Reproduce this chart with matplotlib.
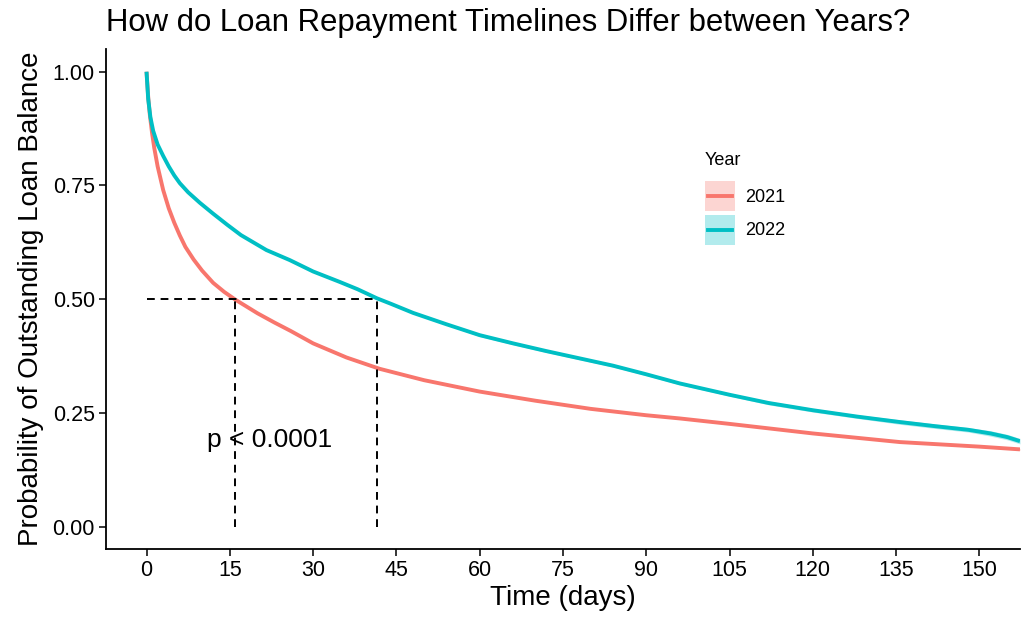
import matplotlib
matplotlib.use("Agg")
import matplotlib.pyplot as plt
from matplotlib.patches import Patch, Rectangle
from matplotlib.lines import Line2D
from matplotlib.legend_handler import HandlerBase

plt.rcParams['font.family'] = ['Liberation Sans', 'DejaVu Sans']

# Kaplan-Meier estimates read at selected days
days_2021 = [0, 0.3, 0.6, 1, 1.4, 2, 3, 4, 5, 6, 7, 8.5, 10, 12, 14, 16, 18, 20, 23, 26,
             30, 36, 42, 50, 60, 70, 80, 90, 96, 105, 120, 135.7, 150, 157.3]
surv_2021 = [1.0, 0.945, 0.905, 0.865, 0.832, 0.792, 0.74, 0.70, 0.668, 0.64, 0.615, 0.587,
             0.563, 0.536, 0.516, 0.499, 0.484, 0.469, 0.449, 0.43, 0.403, 0.372, 0.347,
             0.322, 0.297, 0.277, 0.259, 0.245, 0.238, 0.226, 0.205, 0.186, 0.176, 0.170]
ci_2021 = [0.0, 0.001, 0.001, 0.001, 0.001, 0.001, 0.001, 0.001, 0.001, 0.001, 0.001, 0.001,
           0.001, 0.001, 0.001, 0.001, 0.001, 0.001, 0.001, 0.001, 0.001, 0.001, 0.001,
           0.001, 0.001, 0.001, 0.001, 0.001, 0.001, 0.001, 0.0015, 0.0015, 0.002, 0.002]

days_2022 = [0, 0.3, 0.7, 1.2, 2, 3, 4, 5, 6, 7.5, 9.6, 12, 14.5, 17, 21.6, 25.8, 30, 34.8,
             38, 41.5, 44, 48, 54, 60, 66, 72, 78, 84, 90, 96, 105, 112, 120, 128, 135.7,
             142, 148, 152, 155, 157.3]
surv_2022 = [1.0, 0.94, 0.90, 0.87, 0.84, 0.815, 0.792, 0.772, 0.755, 0.735, 0.712, 0.688,
             0.664, 0.641, 0.608, 0.586, 0.561, 0.538, 0.522, 0.502, 0.49, 0.47, 0.445,
             0.421, 0.403, 0.386, 0.37, 0.354, 0.335, 0.315, 0.29, 0.272, 0.256, 0.242,
             0.23, 0.221, 0.213, 0.205, 0.197, 0.188]
ci_2022 = [0.0, 0.002, 0.002, 0.002, 0.002, 0.002, 0.002, 0.002, 0.002, 0.002, 0.002, 0.002,
           0.002, 0.002, 0.002, 0.002, 0.002, 0.002, 0.002, 0.002, 0.002, 0.002, 0.002,
           0.003, 0.003, 0.003, 0.003, 0.003, 0.003, 0.003, 0.003, 0.004, 0.004, 0.004,
           0.005, 0.005, 0.005, 0.006, 0.006, 0.006]

years = ["2021", "2022"]
colors = ["#F8766D", "#00BFC4"]
median_days = [16, 41.5]
p_label = "p < 0.0001"


class BandKeyHandler(HandlerBase):
    """Legend key: shaded square with the curve colour drawn through its middle."""

    def create_artists(self, legend, orig_handle, xdescent, ydescent, width, height,
                       fontsize, trans):
        col = orig_handle.get_edgecolor()
        box = Rectangle((-xdescent, -ydescent), width, height, facecolor=col,
                        alpha=0.3, lw=0, transform=trans)
        mid = -ydescent + height / 2
        inset = width * 0.1
        line = Line2D([-xdescent + inset, -xdescent + width - inset], [mid, mid],
                      color=col, lw=2.8, transform=trans)
        return [box, line]


fig = plt.figure(figsize=(10.25, 6.17), dpi=100)
ax = fig.add_axes([0.1034, 0.1102, 0.8917, 0.8104])

series = [(days_2021, surv_2021, ci_2021), (days_2022, surv_2022, ci_2022)]
for (d, s, c), col in zip(series, colors):
    lo = [v - e for v, e in zip(s, c)]
    hi = [v + e for v, e in zip(s, c)]
    ax.fill_between(d, lo, hi, color=col, alpha=0.3, lw=0)
    ax.plot(d, s, color=col, lw=2.8, solid_capstyle='butt', solid_joinstyle='round')

# median survival guide lines
ax.plot([0, max(median_days)], [0.5, 0.5], color='black', lw=1.4, ls=(0, (4, 3)))
for m in median_days:
    ax.plot([m, m], [0, 0.5], color='black', lw=1.4, ls=(0, (4, 3)))

ax.text(22.2, 0.19, p_label, fontsize=19, ha='center', va='center')

ax.set_xlim(-7.3, 157.3)
ax.set_ylim(-0.049, 1.05)
ax.set_xticks(range(0, 151, 15))
ax.set_yticks([0, 0.25, 0.5, 0.75, 1.0])
ax.set_yticklabels(["0.00", "0.25", "0.50", "0.75", "1.00"])
ax.tick_params(labelsize=15.5, length=5, width=1.1, pad=3, colors='black')
for side in ['top', 'right']:
    ax.spines[side].set_visible(False)
for side in ['left', 'bottom']:
    ax.spines[side].set_linewidth(1.3)

ax.set_xlabel("Time (days)", fontsize=20, labelpad=3)
ax.set_ylabel("Probability of Outstanding Loan Balance", fontsize=20, labelpad=6)
ax.set_title("How do Loan Repayment Timelines Differ between Years?", fontsize=22.4,
             loc='left', pad=13)

# legend: title placed on its own, keys below it
fig.text(705 / 1025, 1 - 160 / 617, "Year", fontsize=13, ha='left', va='center')
handles = [Patch(edgecolor=col, facecolor=col) for col in colors]
leg = ax.legend(handles, years, frameon=False, fontsize=13,
                handler_map={Patch: BandKeyHandler()},
                handlelength=1.65, handleheight=2.18, labelspacing=0.2, handletextpad=0.6,
                loc='upper left', borderpad=0, borderaxespad=0,
                bbox_to_anchor=(705 / 1025, 1 - 181 / 617), bbox_transform=fig.transFigure)

fig.savefig("out.png", dpi=100)
